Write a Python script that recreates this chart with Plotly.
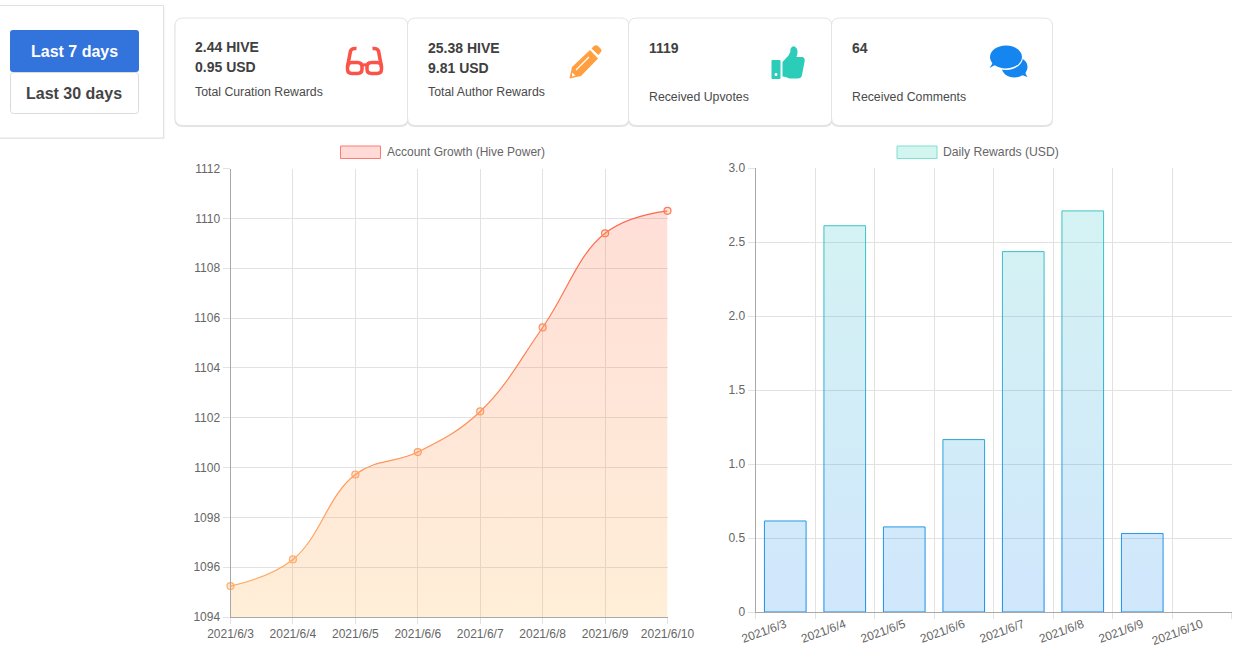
import re
import plotly.graph_objects as go

W, H = 1240, 669

# ---- data
dates = ["2021/6/3", "2021/6/4", "2021/6/5", "2021/6/6", "2021/6/7", "2021/6/8", "2021/6/9", "2021/6/10"]
hive_power = [1095.24, 1096.31, 1099.72, 1100.62, 1102.25, 1105.62, 1109.40, 1110.30]
daily_rewards = [0.615, 2.61, 0.575, 1.165, 2.435, 2.71, 0.53, 0]
point_colors = ["#ffb066", "#ffaf66", "#ffa362", "#ff9f60", "#ff9a5e", "#ff8c5a", "#ff7c55", "#ff7854"]
bar_edge_widths = [1, 1, 1, 1, 1, 1, 1, 0]
hp_ticks = [1094, 1096, 1098, 1100, 1102, 1104, 1106, 1108, 1110, 1112]
usd_ticks = [0, 0.5, 1, 1.5, 2, 2.5, 3]
usd_ticktext = ["0", "0.5", "1.0", "1.5", "2.0", "2.5", "3.0"]

# ---- layout helpers (pixel page coordinates -> paper)
FONT = "Liberation Sans"
def px(x): return x / W
def py(y): return 1 - y / H
def P(d):
    return re.sub(r"(-?[\d.]+),(-?[\d.]+)",
                  lambda m: f"{px(float(m[1])):.5f},{py(float(m[2])):.5f}", d)
def rr(x0, y0, x1, y1, r):
    return (f"M{x0+r},{y0} L{x1-r},{y0} Q{x1},{y0} {x1},{y0+r} L{x1},{y1-r} Q{x1},{y1} {x1-r},{y1} "
            f"L{x0+r},{y1} Q{x0},{y1} {x0},{y1-r} L{x0},{y0+r} Q{x0},{y0} {x0+r},{y0} Z")
def ell(cx, cy, a, b):
    k = 0.5523
    return (f"M{cx-a},{cy} C{cx-a},{cy-k*b} {cx-k*a},{cy-b} {cx},{cy-b} C{cx+k*a},{cy-b} {cx+a},{cy-k*b} {cx+a},{cy} "
            f"C{cx+a},{cy+k*b} {cx+k*a},{cy+b} {cx},{cy+b} C{cx-k*a},{cy+b} {cx-a},{cy+k*b} {cx-a},{cy} Z")

shapes = []
def shape(d, fill="rgba(0,0,0,0)", line="rgba(0,0,0,0)", lw=0):
    shapes.append(dict(type="path", xref="paper", yref="paper", path=P(d), fillcolor=fill,
                       line=dict(color=line, width=lw), layer="above"))
annotations = []
def text(x, y, s, size=12, color="#666666", bold=False, anchor="left"):
    annotations.append(dict(xref="paper", yref="paper", x=px(x), y=py(y), text=f"<b>{s}</b>" if bold else s,
                            showarrow=False, xanchor=anchor, yanchor="middle", borderpad=0,
                            font=dict(family=FONT, size=size, color=color)))

# panel + buttons
shape(rr(-6, 6.5, 164.5, 139, 0), fill="#ececec")
shape(rr(-5, 5.5, 163.5, 138, 0), fill="#ffffff", line="#e2e2e2", lw=1)
shape(rr(10, 30, 139, 72, 3), fill="#3273dc")
shape(rr(10.5, 72.5, 138.5, 113.5, 3), fill="#ffffff", line="#dbdbdb", lw=1)
text(74.5, 51.5, "Last 7 days", 16, "#ffffff", True, "center")
text(74, 93.5, "Last 30 days", 16, "#444444", True, "center")

# cards
for x0, x1 in [(175, 408), (407.5, 629), (628.5, 832), (831.5, 1052.5)]:
    shape(rr(x0 - 0.5, 19, x1 + 0.5, 127, 8), fill="#e3e3e3")
    shape(rr(x0, 18, x1, 125.5, 8), fill="#ffffff", line="#e4e4e4", lw=1)

TC = "#404040"
LBL = 12.3
text(194, 47, "2.44 HIVE", 14, TC, True)
text(194, 67, "0.95 USD", 14, TC, True)
text(194, 91.5, "Total Curation Rewards", LBL, "#4a4a4a")
text(427, 48, "25.38 HIVE", 14, TC, True)
text(427, 68, "9.81 USD", 14, TC, True)
text(427, 92, "Total Author Rewards", LBL, "#4a4a4a")
text(648, 48, "1119", 14, TC, True)
text(648, 96.5, "Received Upvotes", LBL, "#4a4a4a")
text(851, 48, "64", 14, TC, True)
text(851, 96.5, "Received Comments", LBL, "#4a4a4a")

# icon: glasses
RED = "#fc5348"
shape(rr(347.5, 62.5, 362, 73.5, 4.5), line=RED, lw=3.5)
shape(rr(367, 62.5, 381.5, 73.5, 4.5), line=RED, lw=3.5)
shape("M362,65.5 Q364.5,64 367,65.5", line=RED, lw=3.2)
shape("M347.5,67 L350.5,51 Q351.5,48 356.5,48.5", line=RED, lw=3.6)
shape("M381.5,67 L378.5,51 Q377.5,48 372.5,48.5", line=RED, lw=3.6)
# icon: pencil
OR = "#ff9f40"
shape("M569.5,78.5 L572,67 L590,50 L598,58.5 L581,76 Z", fill=OR)
shape("M591.5,48.5 L594,46 Q596,44.5 598,46 L600.5,48.5 Q602.5,50.5 600.5,52.5 L598.5,55 Z", fill=OR)
shape("M576,70 L589,57", line="#ffffff", lw=1.3)
shape("M572,72.5 L575.5,75.5 L572,76.5 Z", fill="#ffffff")
# icon: thumb
TE = "#2bcdb8"
shape(rr(771.5, 60, 780.5, 79, 1), fill=TE)
shape(ell(776, 74.5, 1.5, 1.5), fill="#ffffff")
shape("M782.5,62 L788.5,55.5 Q791,52.5 790.5,49 Q792,45 795.5,47 Q799,50 796.5,57 L802.5,57 Q805.5,58 804.5,62 "
      "L802,75 Q801.5,78.5 797.5,78.5 L789.5,78.5 Q785.5,76.5 782.5,76.5 Z", fill=TE)
# icon: comments
BL = "#1585f0"
shape(ell(1014.5, 67, 13, 10.5), fill=BL)
shape("M1019,74 L1027.5,77 Q1025,73.5 1025,70 Z", fill=BL)
shape(ell(1006, 57, 17, 13), fill="#ffffff")
shape(ell(1006, 57, 16, 11.5), fill=BL)
shape("M995,65 L989.5,68 Q993,64 993,60 Z", fill=BL)

# chart legends
shape(rr(340.5, 146, 380.5, 158.5, 0), fill="#ffdad6", line="#ff7a70", lw=1)
text(386, 152, "Account Growth (Hive Power)", 12, "#666666")
shape(rr(897, 146, 937, 158.5, 0), fill="#d3f5f0", line="#7fdfd0", lw=1)
text(942, 152, "Daily Rewards (USD)", 12.2, "#666666")

# ---- figure
fig = go.Figure()
fig.add_trace(go.Scatter(
    x=dates, y=hive_power, xaxis="x", yaxis="y", mode="lines+markers",
    line=dict(color="#ff8c5a", width=1.2, shape="spline", smoothing=1.15),
    marker=dict(size=7, color="rgba(255,150,90,0.25)", line=dict(color=point_colors, width=1.2)),
    fill="tozeroy",
    fillgradient=dict(type="vertical", start=1112, stop=1094,
                      colorscale=[[0, "rgba(255,85,55,0.2)"], [1, "rgba(255,170,60,0.2)"]]),
    cliponaxis=False, showlegend=False,
))
fig.add_trace(go.Bar(
    x=dates, y=daily_rewards, xaxis="x2", yaxis="y2",
    marker=dict(color="rgba(30,160,220,0.2)", line=dict(color="#3aa0e0", width=bar_edge_widths)),
    showlegend=False,
))

GRID = "#e2e2e2"
AXIS = "#a8a8a8"
tickfont = dict(family=FONT, size=12, color="#666666")
common = dict(showgrid=True, gridcolor=GRID, gridwidth=1, zeroline=False, showline=True, linecolor=AXIS,
              linewidth=1, ticks="outside", tickcolor=GRID, tickwidth=1, tickfont=tickfont, fixedrange=True)
fig.update_layout(
    width=W, height=H, autosize=False, margin=dict(l=0, r=0, t=0, b=0, autoexpand=False),
    paper_bgcolor="#ffffff", plot_bgcolor="#ffffff", bargap=0.3, hovermode=False,
    font=dict(family=FONT),
    xaxis=dict(domain=[px(230.5), px(667.5)], anchor="y", type="category", categoryorder="array",
               categoryarray=dates, range=[0, 7], tickangle=0, ticklen=6, **common),
    yaxis=dict(domain=[py(617), py(168.5)], anchor="x", range=[1094, 1112], tickvals=hp_ticks, ticklen=7, **common),
    xaxis2=dict(domain=[px(755.5), px(1231.5)], anchor="y2", type="category", categoryorder="array",
                categoryarray=dates, range=[-0.5, 7.5], tickson="boundaries", tickangle=-20, ticklen=6, **common),
    yaxis2=dict(domain=[py(612), py(168)], anchor="x2", range=[0, 3], tickvals=usd_ticks, ticktext=usd_ticktext,
                ticklen=7, **common),
    shapes=shapes, annotations=annotations,
)

post = """
document.documentElement.style.overflow='hidden';
document.body.style.margin='0';
(function(){
  var gd=document.getElementById('{plot_id}');
  var svg=gd.querySelector('.main-svg');
  var NS='http://www.w3.org/2000/svg';
  var defs=svg.querySelector('defs');
  function grad(id,h,stops){
    var g=document.createElementNS(NS,'linearGradient');
    g.setAttribute('id',id);g.setAttribute('gradientUnits','userSpaceOnUse');
    g.setAttribute('x1','0');g.setAttribute('x2','0');g.setAttribute('y1','0');g.setAttribute('y2',String(h));
    stops.forEach(function(s){
      var e=document.createElementNS(NS,'stop');
      e.setAttribute('offset',s[0]);e.setAttribute('stop-color',s[1]);
      if(s[2]!==undefined){e.setAttribute('stop-opacity',s[2]);}
      g.appendChild(e);});
    defs.appendChild(g);
  }
  grad('lineGrad',448,[[0,'#ff5f4c'],[1,'#ffb264']]);
  grad('barFill',444,[[0,'#2ec8be',0.2],[1,'#1486f0',0.2]]);
  grad('barLine',444,[[0,'#40ccc0'],[1,'#1a8cf0']]);
  gd.querySelectorAll('.scatterlayer .js-line').forEach(function(p){p.style.stroke='url(#lineGrad)';});
  gd.querySelectorAll('.barlayer .point path').forEach(function(p){
    p.style.fill='url(#barFill)';p.style.fillOpacity='1';
    p.style.stroke='url(#barLine)';p.style.strokeOpacity='1';});
})();
"""
fig.write_html("out.html", post_script=post, config=dict(displayModeBar=False))
